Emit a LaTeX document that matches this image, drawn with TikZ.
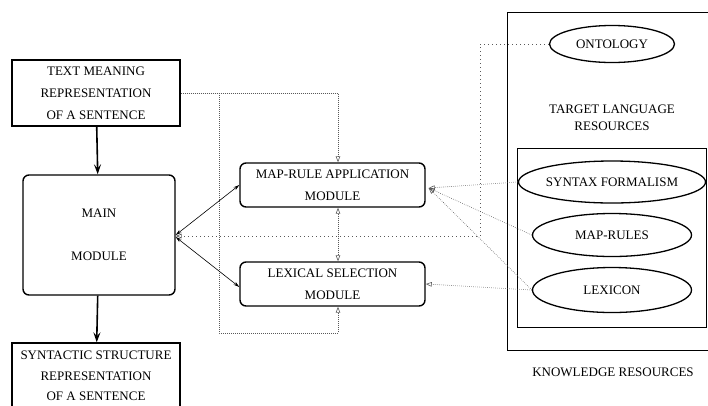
\documentclass[tikz,border=0pt]{standalone}
\usepackage{fontspec}
\setmainfont{Liberation Serif}
\usetikzlibrary{arrows.meta,shapes.geometric}

\begin{document}
\begin{tikzpicture}
	 [x=1pt,y=-1pt,
	  every node/.style={font=\fontsize{13}{22}\selectfont,align=center,inner sep=0pt},
	  sqbox/.style={draw,line width=1.4pt,minimum width=168pt},
	  rbox/.style={draw,line width=1.4pt,rounded corners=6pt},
	  res/.style={draw,ellipse,line width=1.3pt,minimum width=159pt,minimum height=43pt},
	  frame/.style={draw,line width=0.7pt},
	  dotline/.style={gray!70!black,line width=0.6pt,dash pattern=on 0.6pt off 1.4pt},
	  loosedot/.style={gray!70!black,line width=0.7pt,dash pattern=on 0.7pt off 3.3pt},
	  tri/.style={-{Triangle[open,length=6pt,width=4.5pt]}},
	  bigarr/.style={line width=1.6pt,-{Stealth[length=10pt,width=7pt,inset=4pt]}},
	  thinarr/.style={line width=0.6pt,{Stealth[length=6pt,width=3.5pt]}-{Stealth[length=6pt,width=3.5pt]}}]
	\useasboundingbox (0,0) rectangle (708,405);

%	left column
	  \node (tmr)[sqbox,minimum height=66pt] at (96,93) {TEXT MEANING\\REPRESENTATION\\OF A SENTENCE};
	  \node (main)[rbox,minimum width=152pt,minimum height=120pt] at (99,235) {MAIN\\[21pt]MODULE};
	  \node (ssr)[sqbox,minimum height=66pt,font=\fontsize{13}{20.5}\selectfont] at (96,376) {SYNTACTIC STRUCTURE\\REPRESENTATION\\OF A SENTENCE};

	\draw[bigarr] (tmr) -- (main);
	\draw[bigarr] (main) -- (ssr);

%	modules
	  \node (maprule)[rbox,minimum width=185pt,minimum height=44pt] at (332.5,185) {MAP-RULE APPLICATION\\MODULE};
	  \node (lexsel)[rbox,minimum width=185pt,minimum height=44pt] at (332.5,284) {LEXICAL SELECTION\\MODULE};

%	knowledge resources
	\draw[frame] (507,12) rectangle (716,350);
	\draw[frame] (517,148) rectangle (706,327);
	  \node (tlr)[font=\fontsize{13}{17}\selectfont] at (612,118) {TARGET LANGUAGE\\RESOURCES};
	  \node (kr) at (613,372) {KNOWLEDGE RESOURCES};

	  \node (ontology)[res,minimum width=125pt,minimum height=37pt] at (612,44) {ONTOLOGY};
	  \node (syntax)[res,minimum height=42pt] at (612,182) {SYNTAX FORMALISM};
	  \node (maprules)[res] at (612,235) {MAP-RULES};
	  \node (lexicon)[res,minimum height=45pt] at (612,290) {LEXICON};

%	dotted loop round the modules
	\coordinate (loop) at (219,333);
	\coordinate (ont) at (480,44);
	\coordinate (mrin) at ([shift={(3,3)}]maprule.east);

	\draw[dotline,tri] (tmr.east) -| ([xshift=5.5pt]maprule.north);
	\draw[dotline,tri] (tmr.east -| loop) -- (loop) -| ([xshift=5.5pt]lexsel.south);
	\draw[dotline,{Triangle[open,length=6pt,width=4.5pt]}-{Triangle[open,length=6pt,width=4.5pt]}]
	   ([xshift=5.5pt]maprule.south) -- ([xshift=5.5pt]lexsel.north);

	\draw[loosedot,tri] (ontology.west) -- (ont) |- ([yshift=-1pt]main.east);

	\draw[thinarr] (main.east) -- (maprule.west);
	\draw[thinarr] ([yshift=-2pt]main.east) -- ([yshift=-3pt]lexsel.west);

	\foreach \from in {syntax,maprules,lexicon}
    \draw[dotline,tri] (\from.west) -- (mrin);
	\draw[dotline,tri] (lexicon.west) -- (lexsel.east);

\end{tikzpicture}
\end{document}
